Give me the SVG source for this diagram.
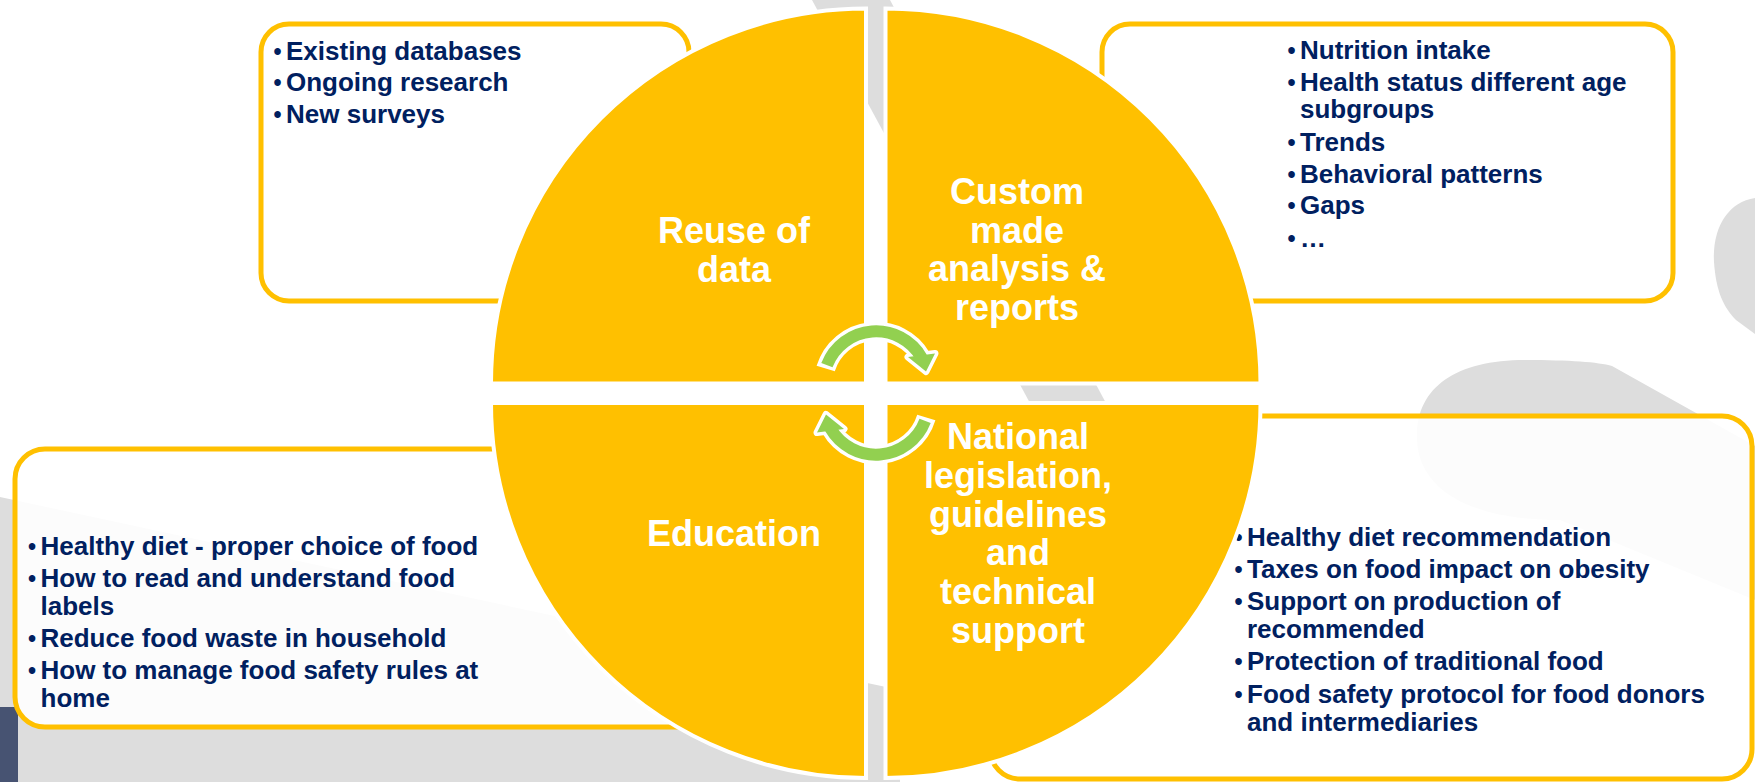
<svg xmlns="http://www.w3.org/2000/svg" width="1755" height="782" viewBox="0 0 1755 782">
<style>
.bg{fill:#dddddd}
.box{fill:#ffffff;fill-opacity:0.9;stroke:#FFC000;stroke-width:5}
.q{fill:#FFC000;stroke:#ffffff;stroke-width:4}
.t{font-family:"Liberation Sans",Arial,sans-serif;font-weight:bold;font-size:26px;fill:#002060}
.bu{font-family:"Liberation Sans",Arial,sans-serif;font-weight:bold;font-size:23px;fill:#002060}
.ql{font-family:"Liberation Sans",Arial,sans-serif;font-weight:bold;font-size:36px;fill:#ffffff;text-anchor:middle}
.aw{fill:none;stroke:#ffffff;stroke-width:19}
.ag{fill:none;stroke:#92D050;stroke-width:12}
.hw{fill:#ffffff;stroke:#ffffff;stroke-width:7;stroke-linejoin:round}
.hg{fill:#92D050}
</style>
<defs>
<g id="arrowShape">
<path class="aw" d="M 825.7 368.6 A 52.6 52.6 0 0 1 921.6 357.7"/>
<polygon class="hw" points="908,357 935,353.5 926,371.5"/>
<path class="ag" d="M 826.9 365.2 A 52.6 52.6 0 0 1 921.6 357.7"/>
<polygon class="hg" points="908,357 935,353.5 926,371.5"/>
</g>
</defs>
<rect x="0" y="0" width="1755" height="782" fill="#ffffff"/>
<g id="background">
<polygon class="bg" points="812,0 890,0 1107,405 1031,405"/>
<path class="bg" d="M 1755 198 C 1728 202 1712 228 1714 262 C 1716 292 1724 308 1736 320 L 1755 334 Z"/>
<path class="bg" d="M 1417 440 C 1415 388 1455 360 1525 360 C 1570 360 1598 362 1612 366 L 1755 446 L 1755 600 L 1560 520 C 1470 520 1419 490 1417 440 Z"/>
<polygon class="bg" points="0,497 900,690 900,782 0,782"/>
<rect x="0" y="707" width="18" height="75" fill="#475372"/>
</g>
<g id="box-reuse">
<rect class="box" x="261" y="24" width="428" height="277" rx="28"/>
<text class="bu" x="273.5" y="60">•</text><text class="t" x="286" y="60">Existing databases</text>
<text class="bu" x="273.5" y="91">•</text><text class="t" x="286" y="91">Ongoing research</text>
<text class="bu" x="273.5" y="123">•</text><text class="t" x="286" y="123">New surveys</text>
</g>
<g id="box-custom">
<rect class="box" x="1102" y="24" width="571" height="277" rx="28"/>
<text class="bu" x="1287.5" y="59">•</text><text class="t" x="1300" y="59">Nutrition intake</text>
<text class="bu" x="1287.5" y="91">•</text><text class="t" x="1300" y="91">Health status different age</text>
<text class="t" x="1300" y="118">subgroups</text>
<text class="bu" x="1287.5" y="151">•</text><text class="t" x="1300" y="151">Trends</text>
<text class="bu" x="1287.5" y="183">•</text><text class="t" x="1300" y="183">Behavioral patterns</text>
<text class="bu" x="1287.5" y="214">•</text><text class="t" x="1300" y="214">Gaps</text>
<text class="bu" x="1287.5" y="247">•</text><text class="t" x="1300" y="247">…</text>
</g>
<g id="box-education">
<rect class="box" x="15" y="449" width="800" height="278" rx="30"/>
<text class="bu" x="28" y="555">•</text><text class="t" x="40.5" y="555">Healthy diet - proper choice of food</text>
<text class="bu" x="28" y="587">•</text><text class="t" x="40.5" y="587">How to read and understand food</text>
<text class="t" x="40.5" y="614.5">labels</text>
<text class="bu" x="28" y="647">•</text><text class="t" x="40.5" y="647">Reduce food waste in household</text>
<text class="bu" x="28" y="679">•</text><text class="t" x="40.5" y="679">How to manage food safety rules at</text>
<text class="t" x="40.5" y="706.5">home</text>
</g>
<g id="box-national">
<rect class="box" x="990" y="416" width="762" height="363" rx="30"/>
<text class="bu" x="1234.5" y="546">•</text><text class="t" x="1247" y="546">Healthy diet recommendation</text>
<text class="bu" x="1234.5" y="578">•</text><text class="t" x="1247" y="578">Taxes on food impact on obesity</text>
<text class="bu" x="1234.5" y="610">•</text><text class="t" x="1247" y="610">Support on production of</text>
<text class="t" x="1247" y="637.5">recommended</text>
<text class="bu" x="1234.5" y="670">•</text><text class="t" x="1247" y="670">Protection of traditional food</text>
<text class="bu" x="1234.5" y="703">•</text><text class="t" x="1247" y="703">Food safety protocol for food donors</text>
<text class="t" x="1247" y="730.5">and intermediaries</text>
</g>
<g id="q-reuse">
<path class="q" d="M 866 383.5 H 491 A 375 375 0 0 1 866 8.5 Z"/>
<text class="ql" x="734" y="243">Reuse of</text>
<text class="ql" x="734" y="282">data</text>
</g>
<g id="q-custom">
<path class="q" d="M 885.5 383.5 V 8.5 A 375 375 0 0 1 1260.5 383.5 Z"/>
<text class="ql" x="1017" y="204">Custom</text>
<text class="ql" x="1017" y="243">made</text>
<text class="ql" x="1017" y="281">analysis &amp;</text>
<text class="ql" x="1017" y="320">reports</text>
</g>
<g id="q-education">
<path class="q" d="M 866 403 V 778 A 375 375 0 0 1 491 403 Z"/>
<text class="ql" x="734" y="546">Education</text>
</g>
<g id="q-national">
<path class="q" d="M 885.5 403 H 1260.5 A 375 375 0 0 1 885.5 778 Z"/>
<text class="ql" x="1018" y="449">National</text>
<text class="ql" x="1018" y="488">legislation,</text>
<text class="ql" x="1018" y="527">guidelines</text>
<text class="ql" x="1018" y="565">and</text>
<text class="ql" x="1018" y="604">technical</text>
<text class="ql" x="1018" y="643">support</text>
</g>
<g id="connectors">
<use href="#arrowShape"/>
<use href="#arrowShape" transform="rotate(180 876 393)"/>
</g>
</svg>
